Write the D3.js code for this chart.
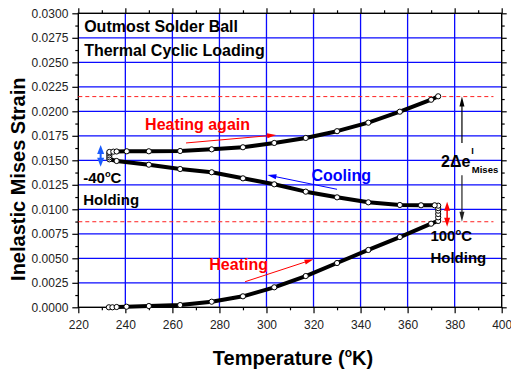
<!DOCTYPE html>
<html>
<head>
<meta charset="utf-8">
<script src="https://cdn.jsdelivr.net/npm/d3@7"></script>
<style>
  html, body { margin: 0; padding: 0; background: #fff; }
  svg { display: block; font-family: "Liberation Sans", Arial, sans-serif; }
</style>
</head>
<body>
<svg id="chart" width="511" height="372"></svg>
<script>
// Temperature (K) and inelastic von Mises strain along one thermal cycle
const heatingT      = [233, 234.5, 236.3, 240.5, 250, 263.3, 276.7, 290, 303.3, 316.7, 330, 343.3, 356.7, 370, 373];
const heatingStrain = [0.0000, 0.0000, 0.00003, 0.00006, 0.00013, 0.00023, 0.00057, 0.00112, 0.00204, 0.00319, 0.00452, 0.00585, 0.00717, 0.00853, 0.00881];

const hotHoldT      = [373, 373, 373, 373, 373];
const hotHoldStrain = [0.00918, 0.00952, 0.00986, 0.01012, 0.01037];

const coolingT      = [371.5, 365.7, 356.7, 343.3, 330, 316.7, 303.3, 290, 276.7, 263.3, 250, 236.3];
const coolingStrain = [0.01041, 0.01041, 0.01044, 0.01071, 0.01122, 0.01180, 0.01255, 0.01316, 0.01378, 0.01411, 0.01455, 0.01493];

const coldHoldT      = [233.2, 233.2, 233.2, 233.2];
const coldHoldStrain = [0.01510, 0.01530, 0.01550, 0.01570];

const reheatT      = [233.2, 234.9, 236.3, 240.6, 250, 263.3, 276.7, 290, 303.3, 316.7, 330, 343.3, 356.7, 370, 373];
const reheatStrain = [0.01585, 0.01588, 0.01590, 0.01592, 0.01592, 0.01595, 0.01612, 0.01633, 0.01677, 0.01728, 0.01797, 0.01884, 0.01996, 0.02118, 0.02153];

// Reference levels: peak strain after re-heating and strain at start of hot dwell
const upperLevel = 0.0215;
const lowerLevel = 0.00873;

// Axis ticks
const xTicks = [220, 240, 260, 280, 300, 320, 340, 360, 380, 400];
const yTicks = [0, 0.0025, 0.005, 0.0075, 0.01, 0.0125, 0.015, 0.0175, 0.02, 0.0225, 0.025, 0.0275, 0.03];

const svg = d3.select("#chart");
const plotL = 78.3, plotR = 501.7, plotT = 13.3, plotB = 307.3;
const x = d3.scaleLinear().domain([220, 400]).range([plotL, plotR]);
const y = d3.scaleLinear().domain([0, 0.03]).range([plotB, plotT]);

// grid
const grid = svg.append("g").attr("stroke", "#0a0aff").attr("stroke-width", 1.3);
grid.selectAll("line.v").data(xTicks.slice(1, -1)).join("line")
  .attr("x1", d => x(d)).attr("x2", d => x(d)).attr("y1", plotT).attr("y2", plotB);
grid.selectAll("line.h").data(yTicks.slice(1, -1)).join("line")
  .attr("y1", d => y(d)).attr("y2", d => y(d)).attr("x1", plotL).attr("x2", plotR);

// minor tick values
const xMinor = d3.range(230, 400, 20);
const yMinor = d3.range(0.00125, 0.03, 0.0025);

// axes
const fmtY = d3.format(".4f");
function styleAxis(g) {
  g.select(".domain").remove();
  g.selectAll("line").attr("stroke", "#000").attr("stroke-width", 1.2);
  g.selectAll("text").attr("font-size", 12).attr("fill", "#222").attr("font-family", "Liberation Sans, Arial, sans-serif");
}
svg.append("g").attr("transform", `translate(0,${plotB})`)
  .call(d3.axisBottom(x).tickValues(xTicks).tickSize(6).tickPadding(7).tickFormat(d3.format("d"))).call(styleAxis);
svg.append("g").attr("transform", `translate(0,${plotB})`)
  .call(d3.axisBottom(x).tickValues(xMinor).tickSize(3).tickFormat("")).call(styleAxis);
svg.append("g").attr("transform", `translate(0,${plotT})`)
  .call(d3.axisTop(x).tickValues(xTicks).tickSize(5).tickFormat("")).call(styleAxis);
svg.append("g").attr("transform", `translate(0,${plotT})`)
  .call(d3.axisTop(x).tickValues(xMinor).tickSize(3).tickFormat("")).call(styleAxis);
svg.append("g").attr("transform", `translate(${plotL},0)`)
  .call(d3.axisLeft(y).tickValues(yTicks).tickSize(6).tickPadding(4).tickFormat(fmtY)).call(styleAxis);
svg.append("g").attr("transform", `translate(${plotL},0)`)
  .call(d3.axisLeft(y).tickValues(yMinor).tickSize(3).tickFormat("")).call(styleAxis);
svg.append("g").attr("transform", `translate(${plotR},0)`)
  .call(d3.axisRight(y).tickValues(yTicks).tickSize(5).tickFormat("")).call(styleAxis);
svg.append("g").attr("transform", `translate(${plotR},0)`)
  .call(d3.axisRight(y).tickValues(yMinor).tickSize(3).tickFormat("")).call(styleAxis);

// frame
svg.append("rect").attr("x", plotL).attr("y", plotT).attr("width", plotR - plotL).attr("height", plotB - plotT)
  .attr("fill", "none").attr("stroke", "#000").attr("stroke-width", 1.4);

// dashed reference levels
svg.selectAll("line.ref").data([upperLevel, lowerLevel]).join("line")
  .attr("x1", x(220)).attr("x2", x(396.5))
  .attr("y1", d => y(d)).attr("y2", d => y(d))
  .attr("stroke", "#ff2020").attr("stroke-width", 1).attr("stroke-dasharray", "4,3");

// the full cycle as one polyline
const cycle = [].concat(
  heatingT.map((t, i) => [t, heatingStrain[i]]),
  hotHoldT.map((t, i) => [t, hotHoldStrain[i]]),
  coolingT.map((t, i) => [t, coolingStrain[i]]),
  coldHoldT.map((t, i) => [t, coldHoldStrain[i]]),
  reheatT.map((t, i) => [t, reheatStrain[i]])
);
const line = d3.line().x(d => x(d[0])).y(d => y(d[1]));
svg.append("path").datum(cycle).attr("d", line)
  .attr("fill", "none").attr("stroke", "#000").attr("stroke-width", 4).attr("stroke-linejoin", "round");
svg.selectAll("circle.pt").data(cycle).join("circle")
  .attr("cx", d => x(d[0])).attr("cy", d => y(d[1])).attr("r", 2.6)
  .attr("fill", "#fff").attr("stroke", "#000").attr("stroke-width", 1);

// arrow helper (data coordinates)
function arrow(t0, v0, t1, v1, color, width, headLen, headW, both) {
  const x0 = x(t0), y0 = y(v0), x1 = x(t1), y1 = y(v1);
  const g = svg.append("g");
  const ang = Math.atan2(y1 - y0, x1 - x0);
  const cx = Math.cos(ang), sy = Math.sin(ang);
  const sx0 = both ? x0 + cx * headLen * 0.8 : x0, sy0 = both ? y0 + sy * headLen * 0.8 : y0;
  g.append("line").attr("x1", sx0).attr("y1", sy0)
    .attr("x2", x1 - cx * headLen * 0.8).attr("y2", y1 - sy * headLen * 0.8)
    .attr("stroke", color).attr("stroke-width", width);
  function head(px, py, a) {
    const bx = px - Math.cos(a) * headLen, by = py - Math.sin(a) * headLen;
    const nx = -Math.sin(a) * headW / 2, ny = Math.cos(a) * headW / 2;
    g.append("path").attr("d", `M${px},${py}L${bx + nx},${by + ny}L${bx - nx},${by - ny}Z`).attr("fill", color);
  }
  head(x1, y1, ang);
  if (both) head(x0, y0, ang + Math.PI);
}

arrow(265.8, 0.01677, 304.1, 0.01758, "#ff0000", 1, 9, 5, false);   // heating again
arrow(330.0, 0.01204, 300.4, 0.01350, "#0000ff", 1, 9, 5, false);   // cooling
arrow(290.9, 0.00261, 320.0, 0.00490, "#ff0000", 1, 9, 5, false);   // heating
arrow(229.5, 0.01435, 229.5, 0.01656, "#1a5cff", 2, 9, 7, true);    // cold dwell
arrow(376.8, 0.00822, 376.8, 0.01078, "#ff0000", 1.5, 9, 6, true);  // hot dwell
arrow(383.1, 0.01677, 383.1, upperLevel, "#000", 1.2, 10, 5, false);
arrow(383.1, 0.01347, 383.1, lowerLevel, "#222", 1.2, 10, 5, false);

// annotation text
function label(t, v, color, size, parts) {
  const txt = svg.append("text").attr("x", x(t)).attr("y", y(v))
    .attr("fill", color).attr("font-size", size).attr("font-weight", "bold");
  parts.forEach(p => {
    const s = txt.append("tspan").text(p.s);
    if (p.sup) s.attr("font-size", size * 0.62).attr("dy", -size * 0.42);
    if (p.after) s.attr("dy", size * 0.42);
    if (p.fs) s.attr("font-size", p.fs);
    if (p.dy) s.attr("dy", p.dy);
    if (p.dx) s.attr("dx", p.dx);
  });
  return txt;
}
label(222.5, 0.02812, "#000", 16, [{ s: "Outmost Solder Ball" }]);
label(222.5, 0.02564, "#000", 16, [{ s: "Thermal Cyclic Loading" }]);
label(248.4, 0.01809, "#ff0000", 16, [{ s: "Heating again" }]);
label(319.1, 0.01284, "#0000ff", 16, [{ s: "Cooling" }]);
label(275.7, 0.00381, "#ff0000", 16, [{ s: "Heating" }]);
label(222.1, 0.01265, "#000", 15, [{ s: "-40" }, { s: "o", sup: true }, { s: "C", after: true }]);
label(222.1, 0.01039, "#000", 15, [{ s: "Holding" }]);
label(369.7, 0.00677, "#000", 15, [{ s: "100" }, { s: "o", sup: true }, { s: "C", after: true }]);
label(369.7, 0.00455, "#000", 15, [{ s: "Holding" }]);
label(374.2, 0.01429, "#000", 16, [
  { s: "2Δe" },
  { s: "I", fs: 9, dy: -13, dx: 1 },
  { s: "Mises", fs: 9.5, dy: 19, dx: -2 }
]);

// axis titles
svg.append("text").attr("x", (212.5 + 373.5) / 2).attr("y", 365).attr("text-anchor", "middle")
  .attr("font-size", 20).attr("font-weight", "bold").attr("fill", "#000")
  .call(t => {
    t.append("tspan").text("Temperature (");
    t.append("tspan").text("o").attr("font-size", 12).attr("dy", -8);
    t.append("tspan").text("K)").attr("dy", 8);
  });
svg.append("text").attr("transform", "translate(24.5,179.2) rotate(-90)").attr("text-anchor", "middle")
  .attr("font-size", 20).attr("font-weight", "bold").attr("fill", "#000")
  .text("Inelastic Mises Strain");
</script>
</body>
</html>
